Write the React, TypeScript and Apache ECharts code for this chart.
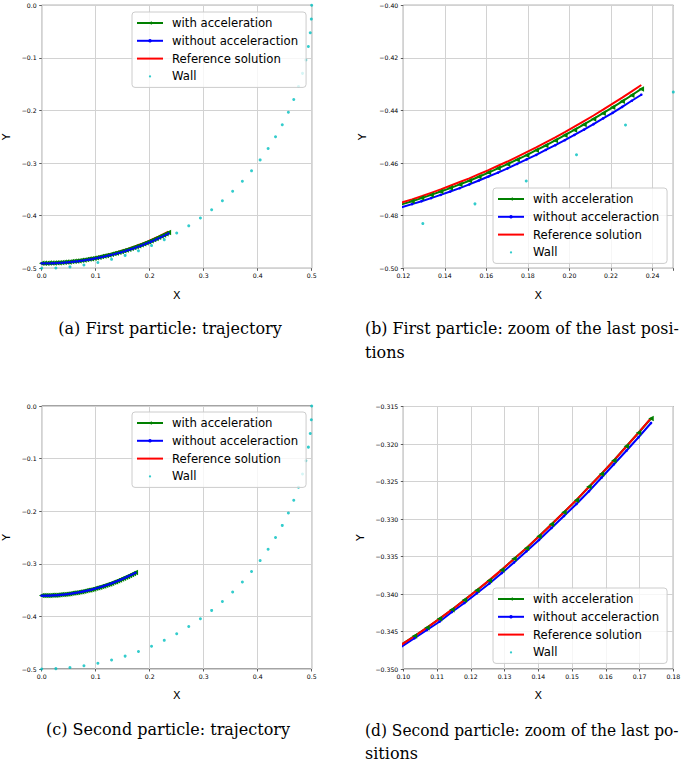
import React, { useEffect, useRef } from "react";
import * as echarts from "echarts";

const SERIES_NAMES = ["with acceleration", "without acceleraction", "Reference solution", "Wall"];

// wall points (x, y)
const WALL: [number, number][] = [
  [0, -0.5], [0.0262, -0.4993], [0.0523, -0.4973], [0.0782, -0.4938], [0.104, -0.4891],
  [0.1294, -0.483], [0.1545, -0.4755], [0.1792, -0.4668], [0.2034, -0.4568], [0.227, -0.4455],
  [0.25, -0.433], [0.2723, -0.4193], [0.2939, -0.4045], [0.3147, -0.3886], [0.3346, -0.3716],
  [0.3536, -0.3536], [0.3716, -0.3346], [0.3886, -0.3147], [0.4045, -0.2939], [0.4193, -0.2723],
  [0.433, -0.25], [0.4455, -0.227], [0.4568, -0.2034], [0.4668, -0.1792], [0.4755, -0.1545],
  [0.483, -0.1294], [0.4891, -0.104], [0.4938, -0.0782], [0.4973, -0.0523], [0.4993, -0.0262],
  [0.5, 0],
];

// First particle: x positions and y of each method
const P1_X = [
  0, 0.0046, 0.0092, 0.0138, 0.0184, 0.023, 0.0276, 0.0322, 0.0368, 0.0414,
  0.046, 0.0506, 0.0552, 0.0598, 0.0644, 0.069, 0.0736, 0.0782, 0.0828, 0.0874,
  0.092, 0.0966, 0.1012, 0.1058, 0.1104, 0.115, 0.1196, 0.1242, 0.1288, 0.1334,
  0.138, 0.1426, 0.1472, 0.1518, 0.1564, 0.161, 0.1656, 0.1702, 0.1748, 0.1794,
  0.184, 0.1886, 0.1932, 0.1978, 0.2024, 0.207, 0.2116, 0.2162, 0.2208, 0.2254,
  0.23, 0.2346,
];
const P1_Y_WITH = [
  -0.4902, -0.4902, -0.4902, -0.4901, -0.4899, -0.4898, -0.4895, -0.4893, -0.489, -0.4886,
  -0.4882, -0.4878, -0.4873, -0.4867, -0.4861, -0.4855, -0.4848, -0.4841, -0.4833, -0.4825,
  -0.4817, -0.4808, -0.4798, -0.4788, -0.4778, -0.4767, -0.4756, -0.4745, -0.4733, -0.4721,
  -0.4708, -0.4695, -0.4681, -0.4667, -0.4652, -0.4636, -0.462, -0.4604, -0.4587, -0.457,
  -0.4551, -0.4533, -0.4514, -0.4494, -0.4474, -0.4453, -0.4432, -0.441, -0.4388, -0.4365,
  -0.4342, -0.4318,
];
const P1_Y_WITHOUT = [
  -0.4905, -0.4905, -0.4905, -0.4905, -0.4904, -0.4902, -0.49, -0.4898, -0.4895, -0.4892,
  -0.4888, -0.4884, -0.4879, -0.4874, -0.4869, -0.4863, -0.4856, -0.4849, -0.4842, -0.4834,
  -0.4826, -0.4817, -0.4808, -0.4798, -0.4788, -0.4778, -0.4767, -0.4756, -0.4745, -0.4733,
  -0.4721, -0.4708, -0.4695, -0.4681, -0.4666, -0.4651, -0.4636, -0.462, -0.4603, -0.4586,
  -0.4569, -0.455, -0.4532, -0.4513, -0.4493, -0.4473, -0.4452, -0.443, -0.4409, -0.4386,
  -0.4363, -0.434,
];
const P1_Y_REF = [
  -0.4902, -0.4902, -0.4901, -0.49, -0.4898, -0.4896, -0.4894, -0.4891, -0.4888, -0.4884,
  -0.4879, -0.4875, -0.4869, -0.4864, -0.4858, -0.4851, -0.4844, -0.4837, -0.4829, -0.482,
  -0.4811, -0.4802, -0.4792, -0.4782, -0.4772, -0.4761, -0.4749, -0.4738, -0.4726, -0.4713,
  -0.47, -0.4686, -0.4672, -0.4658, -0.4642, -0.4627, -0.461, -0.4594, -0.4576, -0.4558,
  -0.454, -0.4521, -0.4502, -0.4482, -0.4461, -0.444, -0.4419, -0.4397, -0.4374, -0.4351,
  -0.4327, -0.4303,
];

// Second particle
const P2_X = [
  0, 0.0037, 0.0074, 0.0111, 0.0148, 0.0185, 0.0221, 0.0258, 0.0295, 0.0332,
  0.0369, 0.0406, 0.0443, 0.048, 0.0517, 0.0554, 0.059, 0.0627, 0.0664, 0.0701,
  0.0738, 0.0775, 0.0812, 0.0849, 0.0886, 0.0923, 0.0959, 0.0996, 0.1033, 0.107,
  0.1107, 0.1144, 0.1181, 0.1218, 0.1255, 0.1292, 0.1328, 0.1365, 0.1402, 0.1439,
  0.1476, 0.1513, 0.155, 0.1587, 0.1624, 0.1661, 0.1697, 0.1734,
];
const P2_Y_WITH = [
  -0.3605, -0.3605, -0.3604, -0.3603, -0.3602, -0.36, -0.3598, -0.3596, -0.3593, -0.359,
  -0.3586, -0.3582, -0.3578, -0.3573, -0.3568, -0.3562, -0.3557, -0.355, -0.3544, -0.3537,
  -0.3529, -0.3522, -0.3513, -0.3505, -0.3496, -0.3487, -0.3477, -0.3467, -0.3456, -0.3445,
  -0.3433, -0.3421, -0.3408, -0.3395, -0.3382, -0.3368, -0.3353, -0.3339, -0.3323, -0.3307,
  -0.3291, -0.3275, -0.3257, -0.324, -0.3222, -0.3203, -0.3185, -0.3166,
];
const P2_Y_WITHOUT = [
  -0.3607, -0.3607, -0.3606, -0.3605, -0.3604, -0.3602, -0.36, -0.3598, -0.3595, -0.3592,
  -0.3589, -0.3585, -0.358, -0.3576, -0.357, -0.3565, -0.3559, -0.3553, -0.3546, -0.3539,
  -0.3532, -0.3524, -0.3516, -0.3508, -0.3499, -0.349, -0.348, -0.347, -0.3459, -0.3448,
  -0.3437, -0.3424, -0.3412, -0.3399, -0.3386, -0.3372, -0.3358, -0.3343, -0.3328, -0.3312,
  -0.3296, -0.328, -0.3263, -0.3245, -0.3227, -0.3209, -0.3191, -0.3172,
];
const P2_Y_REF = [
  -0.3605, -0.36048, -0.36042, -0.36033, -0.3602, -0.36002, -0.35982, -0.35958, -0.35929, -0.35897,
  -0.35861, -0.35821, -0.35777, -0.3573, -0.35679, -0.35623, -0.35566, -0.35504, -0.35437, -0.35367,
  -0.35293, -0.35215, -0.35134, -0.35048, -0.34959, -0.34866, -0.34772, -0.34671, -0.34563, -0.34449,
  -0.34331, -0.34209, -0.34082, -0.33951, -0.33815, -0.33675, -0.33534, -0.33385, -0.33232, -0.33074,
  -0.32911, -0.32745, -0.32573, -0.32398, -0.32218, -0.32033, -0.31849, -0.31656,
];

// tick labels
const X_TICKS_TRAJ = [0, 0.1, 0.2, 0.3, 0.4, 0.5];
const Y_TICKS_TRAJ = [-0.5, -0.4, -0.3, -0.2, -0.1, 0];
const X_TICKS_B = [0.12, 0.14, 0.16, 0.18, 0.2, 0.22, 0.24];
const Y_TICKS_B = [-0.5, -0.48, -0.46, -0.44, -0.42, -0.4];
const X_TICKS_D = [0.1, 0.11, 0.12, 0.13, 0.14, 0.15, 0.16, 0.17, 0.18];
const Y_TICKS_D = [-0.35, -0.345, -0.34, -0.335, -0.33, -0.325, -0.32, -0.315];

const CAPTIONS = [
  ["(a) First particle: trajectory"],
  ["(b) First particle: zoom of the last posi-", "tions"],
  ["(c) Second particle: trajectory"],
  ["(d) Second particle: zoom of the last po-", "sitions"],
];

const GREEN = "#008000";
const BLUE = "#0000ff";
const RED = "#ff0000";
const CYAN = "#00bfbf";

const zip = (xs: number[], ys: number[]) => xs.map((x, i) => [x, ys[i]]);

type Panel = {
  rect: { left: number; top: number; width: number; height: number };
  particle: 1 | 2;
  xTicks: number[];
  yTicks: number[];
  xRange: [number, number];
  yRange: [number, number];
  xInterval: number;
  yInterval: number;
  xDec: number;
  yDec: number;
  legend: { left: number; top: number };
  yLabelX: number;
  xLabelY: number;
};

const PANELS: Panel[] = [
  {
    rect: { left: 41.7, top: 5.3, width: 270, height: 263 }, particle: 1,
    xTicks: X_TICKS_TRAJ, yTicks: Y_TICKS_TRAJ, xRange: [0, 0.5], yRange: [-0.5, 0],
    xInterval: 0.1, yInterval: 0.1, xDec: 1, yDec: 1,
    legend: { left: 132, top: 12 }, yLabelX: 6, xLabelY: 295,
  },
  {
    rect: { left: 403.3, top: 5.3, width: 270, height: 263 }, particle: 1,
    xTicks: X_TICKS_B, yTicks: Y_TICKS_B, xRange: [0.12, 0.25], yRange: [-0.5, -0.4],
    xInterval: 0.02, yInterval: 0.02, xDec: 2, yDec: 2,
    legend: { left: 493, top: 188 }, yLabelX: 362, xLabelY: 295,
  },
  {
    rect: { left: 41.7, top: 406, width: 270, height: 263 }, particle: 2,
    xTicks: X_TICKS_TRAJ, yTicks: Y_TICKS_TRAJ, xRange: [0, 0.5], yRange: [-0.5, 0],
    xInterval: 0.1, yInterval: 0.1, xDec: 1, yDec: 1,
    legend: { left: 132, top: 412 }, yLabelX: 6, xLabelY: 695,
  },
  {
    rect: { left: 403.3, top: 406.5, width: 270, height: 262.5 }, particle: 2,
    xTicks: X_TICKS_D, yTicks: Y_TICKS_D, xRange: [0.1, 0.18], yRange: [-0.35, -0.315],
    xInterval: 0.01, yInterval: 0.005, xDec: 2, yDec: 3,
    legend: { left: 493, top: 588 }, yLabelX: 360, xLabelY: 695,
  },
];

function tickFormatter(ticks: number[], dec: number) {
  return (v: number) => {
    if (!ticks.some((t) => Math.abs(t - v) < 1e-9)) return "";
    const val = Math.abs(v) < 1e-12 ? 0 : v;
    return val.toFixed(dec).replace("-", "\u2212");
  };
}

const WALL_ICON = "path://M0,0L0,0M26,6L26,6M11.5,3A1.5,1.5,0,1,0,14.5,3A1.5,1.5,0,1,0,11.5,3Z";

function buildOption() {
  const grids: any[] = [];
  const xAxes: any[] = [];
  const yAxes: any[] = [];
  const series: any[] = [];
  const legends: any[] = [];
  const graphics: any[] = [];

  const labelStyle = { fontFamily: "DejaVu Sans", fontSize: 6.2, color: "#000" };

  PANELS.forEach((p, i) => {
    grids.push({
      ...p.rect,
      show: true,
      borderColor: "#333",
      borderWidth: 0.9,
      backgroundColor: "transparent",
    });
    const common = {
      gridIndex: i,
      type: "value",
      axisLine: { show: false, onZero: false },
      axisTick: { show: true, inside: false, length: 2.5, lineStyle: { color: "#333", width: 0.8 } },
      splitLine: { show: true, lineStyle: { color: "#d2d2d2", width: 1 } },
    };
    xAxes.push({
      ...common,
      min: p.xRange[0],
      max: p.xRange[1],
      interval: p.xInterval,
      axisLabel: { ...labelStyle, margin: 4, formatter: tickFormatter(p.xTicks, p.xDec), showMaxLabel: true, showMinLabel: true },
    });
    yAxes.push({
      ...common,
      min: p.yRange[0],
      max: p.yRange[1],
      interval: p.yInterval,
      axisLabel: { ...labelStyle, margin: 5, formatter: tickFormatter(p.yTicks, p.yDec), showMaxLabel: true, showMinLabel: true },
    });

    const xs = p.particle === 1 ? P1_X : P2_X;
    const withAcc = zip(xs, p.particle === 1 ? P1_Y_WITH : P2_Y_WITH);
    const withoutAcc = zip(xs, p.particle === 1 ? P1_Y_WITHOUT : P2_Y_WITHOUT);
    const ref = zip(xs, p.particle === 1 ? P1_Y_REF : P2_Y_REF);

    series.push({
      name: SERIES_NAMES[0], type: "line", xAxisIndex: i, yAxisIndex: i, data: withAcc,
      symbol: "triangle", symbolRotate: 90, symbolSize: 5.5, showSymbol: true, showAllSymbol: true,
      lineStyle: { color: GREEN, width: 2 }, itemStyle: { color: GREEN }, clip: true, silent: true,
    });
    series.push({
      name: SERIES_NAMES[1], type: "line", xAxisIndex: i, yAxisIndex: i, data: withoutAcc,
      symbol: "circle", symbolSize: 2.6, showSymbol: true, showAllSymbol: true,
      lineStyle: { color: BLUE, width: 2 }, itemStyle: { color: BLUE }, clip: true, silent: true,
    });
    series.push({
      name: SERIES_NAMES[2], type: "line", xAxisIndex: i, yAxisIndex: i, data: ref,
      symbol: "line", showSymbol: false,
      lineStyle: { color: RED, width: 2 }, itemStyle: { color: RED }, clip: true, silent: true,
    });
    series.push({
      name: SERIES_NAMES[3], type: "scatter", xAxisIndex: i, yAxisIndex: i, data: WALL,
      symbol: "circle", symbolSize: 3, itemStyle: { color: CYAN }, clip: true, silent: true,
    });

    legends.push({
      data: SERIES_NAMES.map((n, k) => (k === 3 ? { name: n, icon: WALL_ICON } : { name: n })),
      orient: "vertical",
      left: p.legend.left,
      top: p.legend.top,
      itemWidth: 26,
      itemHeight: 4.5,
      itemGap: 3.8,
      padding: [4, 8, 4, 4],
      backgroundColor: "rgba(255,255,255,0.8)",
      borderColor: "#cccccc",
      borderWidth: 1,
      borderRadius: 3,
      selectedMode: false,
      textStyle: { fontFamily: "DejaVu Sans", fontSize: 11.7, color: "#000", lineHeight: 14, padding: [0, 0, 0, 4] },
    });

    const cx = p.rect.left + p.rect.width / 2;
    const cy = p.rect.top + p.rect.height / 2;
    graphics.push({
      type: "text", x: cx, y: p.xLabelY, silent: true,
      style: { text: "X", fontFamily: "DejaVu Sans", fontSize: 11, fill: "#000", align: "center", verticalAlign: "middle" },
    });
    graphics.push({
      type: "text", x: p.yLabelX, y: cy, rotation: Math.PI / 2, silent: true,
      style: { text: "Y", fontFamily: "DejaVu Sans", fontSize: 11, fill: "#000", align: "center", verticalAlign: "middle" },
    });
  });

  // captions
  const capFont = { fontFamily: "DejaVu Serif", fontSize: 16, fill: "#000", verticalAlign: "middle" };
  graphics.push({ type: "text", x: 170, y: 328.5, silent: true, style: { ...capFont, text: CAPTIONS[0][0], align: "center" } });
  graphics.push({ type: "text", x: 365, y: 328.5, scaleX: 0.99, silent: true, style: { ...capFont, text: CAPTIONS[1][0], align: "left" } });
  graphics.push({ type: "text", x: 365, y: 352.5, silent: true, style: { ...capFont, text: CAPTIONS[1][1], align: "left" } });
  graphics.push({ type: "text", x: 168, y: 729, silent: true, style: { ...capFont, text: CAPTIONS[2][0], align: "center" } });
  graphics.push({ type: "text", x: 365, y: 730, scaleX: 0.965, silent: true, style: { ...capFont, text: CAPTIONS[3][0], align: "left" } });
  graphics.push({ type: "text", x: 365, y: 753, silent: true, style: { ...capFont, text: CAPTIONS[3][1], align: "left" } });

  return {
    animation: false,
    backgroundColor: "#ffffff",
    grid: grids,
    xAxis: xAxes,
    yAxis: yAxes,
    legend: legends,
    series,
    graphic: graphics,
  };
}

export default function App() {
  const ref = useRef<HTMLDivElement>(null);
  useEffect(() => {
    document.body.style.margin = "0";
    if (!ref.current) return;
    const chart = echarts.init(ref.current, undefined, { renderer: "svg" });
    chart.setOption(buildOption() as any);
    return () => chart.dispose();
  }, []);
  return <div ref={ref} style={{ width: 685, height: 762 }} />;
}
